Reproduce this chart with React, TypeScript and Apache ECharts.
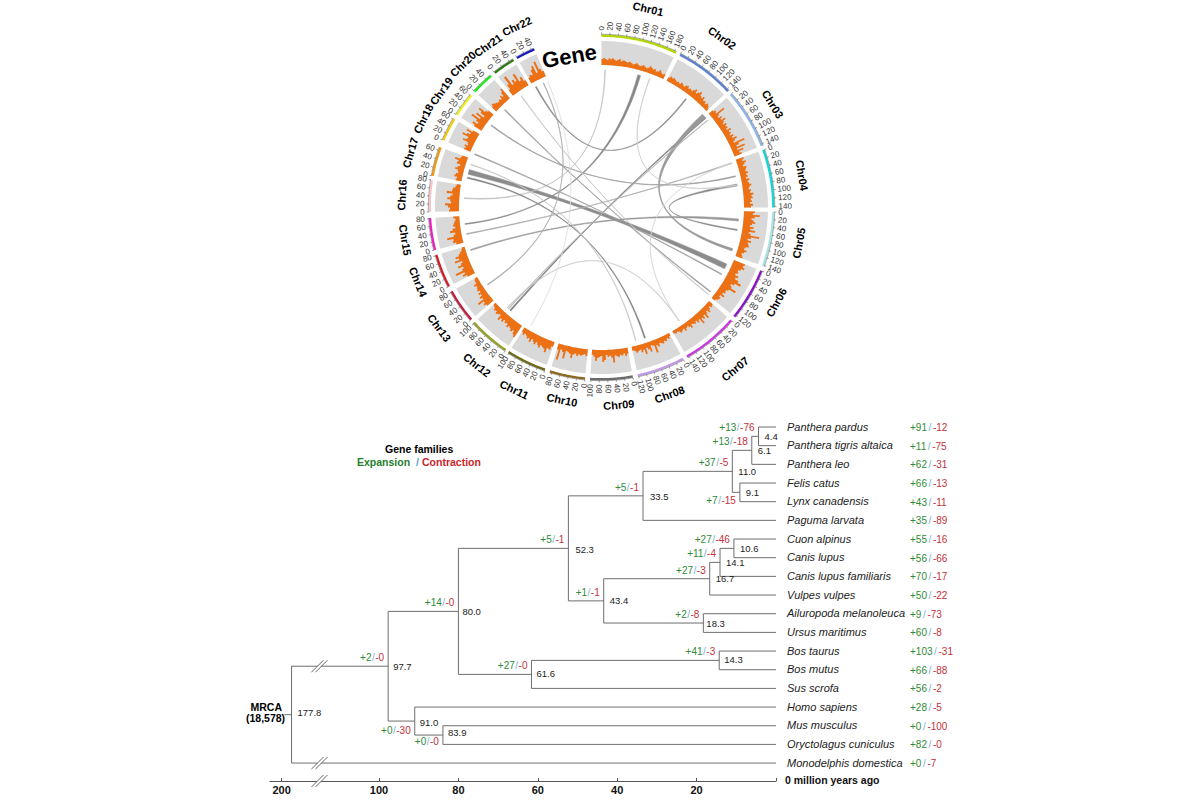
import React, { useEffect, useRef } from "react";
import * as echarts from "echarts";

// ---------- Circos data ----------
const chrNames = ["Chr01","Chr02","Chr03","Chr04","Chr05","Chr06","Chr07","Chr08","Chr09","Chr10","Chr11","Chr12","Chr13","Chr14","Chr15","Chr16","Chr17","Chr18","Chr19","Chr20","Chr21","Chr22"];
const chrLengths = [185,145,145,143,142,125,145,122,102,85,102,102,82,82,82,80,68,62,62,55,50,47];
const geneCounts: number[][] = [
  [6,7,6,5,7,6,7,6,5,6,7,5,6,6,5,5,6,5,4,5,6,5,4,5,6,5,4,5,7,6,5,6,4,5,7,5,4,5],
  [4,6,5,6,5,4,5,4,6,5,4,6,7,5,6,5,7,9,6,8,10,7,6,8,5,6,4,6,5,3],
  [5,7,6,15,7,5,8,6,10,7,5,8,6,7,5,9,6,7,5,8,6,10,7,5,16,9,6,14,5,11,6,8],
  [8,6,9,7,5,8,7,6,8,6,7,5,8,6,7,9,7,6,8,7,10,8,9,7,8,6,9,7],
  [11,9,16,11,8,10,12,9,7,11,8,13,7,9,18,10,7,11,8,9,10,7,6,9,7,5,6,7],
  [12,11,13,10,8,9,7,11,9,13,17,11,8,10,16,9,7,8,6,9,5,7,6,4],
  [5,6,4,6,8,5,7,11,6,9,7,12,6,8,5,7,6,5,8,6,4,5,7,4,5,6,4,3,4,3],
  [3,5,4,6,5,7,6,5,8,6,13,5,4,10,7,5,11,6,8,5,6,7,5,4],
  [6,8,5,7,6,8,7,6,13,8,6,7,5,10,12,6,7,8,11,7,5],
  [7,5,6,7,6,8,6,7,11,7,6,5,13,7,5,16,6],
  [5,9,8,13,10,9,8,11,9,7,10,8,6,10,7,8,6,5,7,5],
  [14,12,9,11,9,8,10,7,8,6,9,7,10,5,6,7,5,6,4,3],
  [8,10,8,14,7,9,6,8,5,7,6,5,7,4,4,3],
  [8,12,9,18,10,8,13,9,7,14,9,12,8,6,4,3],
  [7,10,9,15,8,6,11,8,5,7,6,5,4,6],
  [10,9,11,14,8,9,12,9,7,13,8,7,5,4],
  [6,5,8,7,5,6,9,7,5,9,8,12,7,6],
  [7,6,8,5,6,12,9,8,15,11,8,13,7],
  [9,12,7,10,17,8,14,6,11,15,8,6],
  [6,8,7,6,5,5,6,5,8,6,10,13],
  [7,12,20,9,13,10,17,8,11,6],
  [6,8,7,12,15,7,18,9,6],
];
const linkStart = [285,221.5,48.2,80.6,252,15.9,273.9,331.5,306.7,315.3,292.8,282.5,258.9,235.9,223.2,210.9,20.5,145.6,324.3,288.2,222.6];
const linkEnd = [115.4,49.2,107.9,99.4,95.2,263.1,1.5,37.9,76.9,127.7,119.1,161.6,71.2,335,145.6,336.9,80.6,71.2,129.1,165.6,50.6];
const linkStartWidth = [2,0.6,1.9,0.8,0.5,1.2,0.4,0.5,0.4,0.4,0.4,0.5,0.4,0.4,0.3,0.2,0.3,0.2,0.3,0.3,0.3];
const linkEndWidth = [2.2,0.6,1.0,0.5,0.9,0.4,0.3,0.5,0.4,0.4,0.4,0.5,0.4,0.3,0.3,0.2,0.3,0.2,0.3,0.3,0.3];

// ---------- Phylogeny data ----------
const speciesNames = ["Panthera pardus","Panthera tigris altaica","Panthera leo","Felis catus","Lynx canadensis","Paguma larvata","Cuon alpinus","Canis lupus","Canis lupus familiaris","Vulpes vulpes","Ailuropoda melanoleuca","Ursus maritimus","Bos taurus","Bos mutus","Sus scrofa","Homo sapiens","Mus musculus","Oryctolagus cuniculus","Monodelphis domestica"];
const speciesGain = [91,11,62,66,43,35,55,56,70,50,9,60,103,66,56,28,0,82,0];
const speciesLoss = [12,75,31,13,11,89,16,66,17,22,73,8,31,88,2,5,100,0,7];
const nodeAges = [4.4,6.1,9.1,11.0,33.5,10.6,14.1,16.7,18.3,43.4,52.3,14.3,61.6,80.0,83.9,91.0,97.7,177.8];
const nodeFirst: (string|number)[] = ["Panthera pardus",4.4,"Felis catus",6.1,11.0,"Cuon alpinus",10.6,14.1,"Ailuropoda melanoleuca",16.7,33.5,"Bos taurus",14.3,52.3,"Mus musculus","Homo sapiens",80.0,97.7];
const nodeSecond: (string|number)[] = ["Panthera tigris altaica","Panthera leo","Lynx canadensis",9.1,"Paguma larvata","Canis lupus","Canis lupus familiaris","Vulpes vulpes","Ursus maritimus",18.3,43.4,"Bos mutus","Sus scrofa",61.6,"Oryctolagus cuniculus",83.9,91.0,"Monodelphis domestica"];
const nodeGain = [13,13,7,37,5,27,11,27,2,1,5,41,27,14,0,0,2,null];
const nodeLoss = [76,18,15,5,1,46,4,3,8,1,1,3,0,0,0,30,0,null];
const axisTicks = [0,20,40,60,80,100,200];

// ---------- Layout and style ----------
const FONT = '"Liberation Sans", Arial, sans-serif';
const chrStart = [0,27.2,48.8,70.4,91.5,111.6,131,151.7,169.5,185.5,199.2,213.9,229.3,242.6,255.7,268.5,280.6,293,302.6,312.4,321.6,330.5];
const chrEnd = [25.7,47.4,69,90,109.9,129.4,150.2,167.8,183.8,197.5,212.7,228,240.8,254,266.5,279.2,290.5,301,310.7,320,329.2,337];
const chrColors = ["#b5d800","#5a82d2","#8fb4e6","#13d8d8","#a9e4e4","#8a14c2","#c83adf","#c09ae8","#6b6b6b","#8b6a1e","#6f6a18","#96a02a","#c21e3c","#d41f28","#ee1fc0","#f7c6cb","#f29a0e","#f0cb12","#ecf024","#22e81e","#2e7a18","#1c1cc0"];
const chrLabelAngle = [13.2,35.4,58.9,80.9,100.2,118.5,140.4,160,175,191.6,205.6,218.3,233.4,247.9,260.6,273.6,286,296.5,306,316,325,335];
const chrLabelRadius = [204,208,200,203,200.6,199,209.5,199,198,196.5,202,200.8,202,198,199,200,199,199,198,199.5,198,200];
const linkColors = ["#8c8c8c","#808080","#999999","#8a8a8a","#999999","#888888","#c0c0c0","#8a8a8a","#999999","#999999","#999999","#808080","#aaaaaa","#aaaaaa","#c8c8c8","#e0e0e0","#cccccc","#d5d5d5","#c4c4c4","#c4c4c4","#b5b5b5"];
const R_BASE = 142.5, R_BAND = 166.5, R_AXIS = 171.8, R_TICK = 175, R_TEXT = 177, R_LINK = 137.5;
const ORANGE = "#ec7014", GREEN = "#2f8a35", RED = "#c5303a", SLASH = "#7fb0cc";
const LINE = "#6e6e6e";
const belowBranch: Record<string, number> = { "9.1": 8, "91": 9, "83.9": 6 };
const ageOffset: Record<string, [number, number]> = { "80": [4, 0], "18.3": [3, 0], "14.3": [5, -1], "61.6": [5, -1], "97.7": [5, 0], "91": [5, 1], "83.9": [5, -3], "177.8": [6, -2], "33.5": [7, 1], "6.1": [6, 0], "52.3": [7, 1] };

// the axis is broken above 115 Myr: older ages are compressed
const mapAge = (age: number) => (age <= 115 ? age : 115 + (age - 115) * 0.112);

const rowOf: Record<string, number> = {};
speciesNames.forEach((n, i) => (rowOf[n] = i));
nodeAges.forEach((age, i) => {
  const r = (c: string | number) => rowOf[String(c)];
  rowOf[String(age)] = (r(nodeFirst[i]) + r(nodeSecond[i])) / 2;
});
const ageOf = (c: string | number) => (typeof c === "number" ? c : 0);

const richScore = (size: number, pad: number) => ({
  g: { fill: GREEN, fontSize: size, fontFamily: FONT },
  s: { fill: SLASH, fontSize: size, fontFamily: FONT, padding: [0, pad] },
  r: { fill: RED, fontSize: size, fontFamily: FONT },
});

const arcPts = (api: any, r: number, a0: number, a1: number) => {
  const pts: number[][] = [];
  const n = Math.max(2, Math.ceil(Math.abs(a1 - a0) / 0.5));
  for (let i = 0; i <= n; i++) pts.push(api.coord([r, a0 + ((a1 - a0) * i) / n]).slice(0, 2));
  return pts;
};

const renderLink = (p: any, api: any) => {
  const i = p.dataIndex;
  const c = api.coord([0, 0]);
  const edge = (a: number, b: number) => {
    const A = api.coord([R_LINK, a]), B = api.coord([R_LINK, b]);
    const pts: number[][] = [];
    for (let k = 0; k <= 30; k++) {
      const t = k / 30, u = 1 - t;
      pts.push([u * u * A[0] + 2 * u * t * c[0] + t * t * B[0], u * u * A[1] + 2 * u * t * c[1] + t * t * B[1]]);
    }
    return pts;
  };
  const a = linkStart[i], b = linkEnd[i], wa = linkStartWidth[i] / 2, wb = linkEndWidth[i] / 2;
  const points = edge(a - wa, b + wb).concat(edge(b - wb, a + wa));
  return { type: "polygon", shape: { points }, style: { fill: linkColors[i], stroke: linkColors[i], lineWidth: 0.5 } };
};

const renderChr = (p: any, api: any) => {
  const i = p.dataIndex;
  const s = chrStart[i], e = chrEnd[i];
  const mbToAngle = (mb: number) => s + (mb / chrLengths[i]) * (e - s);
  const band = arcPts(api, R_BAND, s, e).concat(arcPts(api, R_BASE, e, s));
  const counts = geneCounts[i];
  const bars: number[][] = [];
  counts.forEach((v, k) => {
    const a0 = s + ((e - s) * k) / counts.length, a1 = s + ((e - s) * (k + 1)) / counts.length;
    bars.push(api.coord([R_BASE + v, a0]).slice(0, 2), api.coord([R_BASE + v, a1]).slice(0, 2));
  });
  const hist = bars.concat(arcPts(api, R_BASE, e, s));
  const children: any[] = [
    { type: "polygon", shape: { points: band }, style: { fill: "#d9d9d9" } },
    { type: "polygon", shape: { points: hist }, style: { fill: ORANGE } },
    { type: "polyline", shape: { points: arcPts(api, R_AXIS, s, e) }, style: { stroke: chrColors[i], lineWidth: 2.4, fill: "none" } },
    { type: "polyline", shape: { points: arcPts(api, R_AXIS + 1.4, s, e) }, style: { stroke: "#777777", lineWidth: 0.6, fill: "none" } },
  ];
  for (let mb = 0; mb <= chrLengths[i]; mb += 20) {
    const a = mbToAngle(mb);
    const A = api.coord([R_AXIS + 1, a]), B = api.coord([R_TICK, a]), T = api.coord([R_TEXT, a]);
    const right = a < 180;
    children.push({ type: "line", shape: { x1: A[0], y1: A[1], x2: B[0], y2: B[1] }, style: { stroke: "#666666", lineWidth: 0.6 } });
    children.push({
      type: "text", x: T[0], y: T[1],
      rotation: ((right ? 90 - a : 270 - a) * Math.PI) / 180,
      style: { text: String(mb), fontFamily: FONT, fontSize: 8, fill: "#333333", align: right ? "left" : "right", verticalAlign: "middle" },
    });
  }
  const th = chrLabelAngle[i];
  const L = api.coord([chrLabelRadius[i], th]);
  children.push({
    type: "text", x: L[0], y: L[1],
    rotation: (((th > 90 && th < 270 ? 180 - th : -th)) * Math.PI) / 180,
    style: { text: chrNames[i], fontFamily: FONT, fontSize: 11, fontWeight: "bold", fill: "#000000", align: "center", verticalAlign: "middle" },
  });
  return { type: "group", children };
};

const renderGeneTitle = (_p: any, api: any) => {
  const G = api.coord([154.7, 348]);
  return { type: "text", x: G[0], y: G[1], rotation: (10 * Math.PI) / 180, style: { text: "Gene", fontFamily: FONT, fontSize: 22, fontWeight: "bold", fill: "#000000", align: "center", verticalAlign: "middle" } };
};

const hLine = (x1: number, x2: number, y: number) => ({ type: "line", shape: { x1, y1: y, x2, y2: y }, style: { stroke: LINE, lineWidth: 1 } });

const breakMark = (x: number, y: number) => {
  const line = (o: number) => ({ type: "line", shape: { x1: x - 6 + o, y1: y + 6, x2: x + 6 + o, y2: y - 6 }, style: { stroke: "#555555", lineWidth: 0.9 } });
  return [
    { type: "polygon", shape: { points: [[x - 8, y + 6], [x - 4, y + 6], [x + 8, y - 6], [x + 4, y - 6]] }, style: { fill: "#ffffff" } },
    line(-2), line(2),
  ];
};

const renderNode = (p: any, api: any) => {
  const i = p.dataIndex;
  const age = nodeAges[i];
  const key = String(age);
  const xy = (a: number, row: number) => api.coord([mapAge(a), row]);
  const N = xy(age, rowOf[key]);
  const A = xy(ageOf(nodeFirst[i]), rowOf[String(nodeFirst[i])]);
  const B = xy(ageOf(nodeSecond[i]), rowOf[String(nodeSecond[i])]);
  const children: any[] = [
    { type: "line", shape: { x1: N[0], y1: A[1], x2: N[0], y2: B[1] }, style: { stroke: LINE, lineWidth: 1 } },
    hLine(N[0], A[0], A[1]),
    hLine(N[0], B[0], B[1]),
  ];
  const off = ageOffset[key] || [6, 0];
  children.push({
    type: "text", x: N[0] + off[0], y: N[1] + off[1],
    style: { text: age.toFixed(1), fontFamily: FONT, fontSize: 9.5, fill: "#222222", align: "left", verticalAlign: "middle" },
  });
  if (nodeGain[i] !== null) {
    const dy = belowBranch[key] ?? -8.5;
    children.push({
      type: "text", x: N[0] - 4, y: N[1] + dy,
      style: { text: `{g|+${nodeGain[i]}}{s|/}{r|-${nodeLoss[i]}}`, rich: richScore(10, 0.5), align: "right", verticalAlign: "middle" },
    });
  } else {
    // root stem, and the axis-break marks on the two long branches
    children.push(hLine(N[0] - 7, N[0], N[1]));
    children.push(...breakMark(xy(115, 0)[0], A[1]), ...breakMark(xy(115, 0)[0], B[1]));
  }
  return { type: "group", children };
};

const renderLeaf = (p: any, api: any) => {
  const i = p.dataIndex;
  const L = api.coord([0, i]);
  return {
    type: "group",
    children: [
      { type: "text", x: L[0] + 11, y: L[1] - 0.5, style: { text: speciesNames[i], fontFamily: FONT, fontSize: 11, fontStyle: "italic", fill: "#222222", align: "left", verticalAlign: "middle" } },
      { type: "text", x: L[0] + 134, y: L[1] + 0.5, style: { text: `{g|+${speciesGain[i]}}{s|/}{r|-${speciesLoss[i]}}`, rich: richScore(10, 1.6), align: "left", verticalAlign: "middle" } },
    ],
  };
};

const renderAxisBreak = (_p: any, api: any) => {
  const P = api.coord([115, 18.96]);
  return { type: "group", children: breakMark(P[0], P[1]) };
};

const buildOption = () => ({
  animation: false,
  backgroundColor: "#ffffff",
  polar: { center: [601.5, 207.5], radius: 220 },
  angleAxis: { show: false, type: "value", min: 0, max: 360, startAngle: 90, clockwise: true },
  radiusAxis: { show: false, type: "value", min: 0, max: 220 },
  grid: { left: 270, right: 424, top: 417.67, bottom: 19 },
  xAxis: {
    type: "value", inverse: true, min: 0, max: 127.46, position: "bottom", splitLine: { show: false },
    axisLine: { onZero: false, lineStyle: { color: "#555555", width: 1 } },
    axisTick: { inside: true, length: 3, lineStyle: { color: "#555555" }, customValues: axisTicks.map(mapAge) },
    axisLabel: {
      customValues: axisTicks.filter((t) => t > 0).map(mapAge),
      formatter: (v: number) => String(v > 100 ? 200 : v),
      fontFamily: FONT, fontSize: 11, fontWeight: "bold", color: "#111111", margin: 3,
    },
  },
  yAxis: { type: "value", show: false, inverse: true, min: -0.5, max: 18.96, splitLine: { show: false } },
  series: [
    { type: "custom", coordinateSystem: "polar", silent: true, renderItem: renderLink, data: linkStart.map((a) => [R_LINK, a]) },
    { type: "custom", coordinateSystem: "polar", silent: true, renderItem: renderChr, data: chrNames.map((_, i) => [R_BAND, chrStart[i]]) },
    { type: "custom", coordinateSystem: "polar", silent: true, renderItem: renderGeneTitle, data: [[154.7, 348]] },
    { type: "custom", coordinateSystem: "cartesian2d", silent: true, renderItem: renderNode, data: nodeAges.map((a) => [mapAge(a), rowOf[String(a)]]) },
    { type: "custom", coordinateSystem: "cartesian2d", silent: true, renderItem: renderLeaf, data: speciesNames.map((_, i) => [0, i]) },
    { type: "custom", coordinateSystem: "cartesian2d", silent: true, renderItem: renderAxisBreak, data: [[115, 18.96]] },
  ],
  graphic: [
    { type: "text", x: 250.5, y: 707, silent: true, style: { text: "MRCA", fontFamily: FONT, fontSize: 10.5, fontWeight: "bold", fill: "#000000", verticalAlign: "middle" } },
    { type: "text", x: 246, y: 717.5, silent: true, style: { text: "(18,578)", fontFamily: FONT, fontSize: 10.5, fontWeight: "bold", fill: "#000000", verticalAlign: "middle" } },
    { type: "text", x: 785, y: 779.5, silent: true, style: { text: "0 million years ago", fontFamily: FONT, fontSize: 10.5, fontWeight: "bold", fill: "#111111", verticalAlign: "middle" } },
    { type: "text", x: 385, y: 449, silent: true, style: { text: "Gene families", fontFamily: FONT, fontSize: 10.5, fontWeight: "bold", fill: "#000000", verticalAlign: "middle" } },
    { type: "text", x: 357, y: 462, silent: true, style: { text: "Expansion", fontFamily: FONT, fontSize: 10.5, fontWeight: "bold", fill: "#25802e", verticalAlign: "middle" } },
    { type: "text", x: 416, y: 462, silent: true, style: { text: "/", fontFamily: FONT, fontSize: 10.5, fontWeight: "bold", fill: "#5ba3c9", verticalAlign: "middle" } },
    { type: "text", x: 422, y: 462, silent: true, style: { text: "Contraction", fontFamily: FONT, fontSize: 10.5, fontWeight: "bold", fill: "#cc1f2a", verticalAlign: "middle" } },
  ],
});

export default function App() {
  const ref = useRef<HTMLDivElement>(null);
  useEffect(() => {
    const chart = echarts.init(ref.current!, undefined, { renderer: "svg" });
    chart.setOption(buildOption() as any);
    return () => chart.dispose();
  }, []);
  return <div ref={ref} style={{ position: "absolute", left: 0, top: 0, width: 1200, height: 800 }} />;
}
